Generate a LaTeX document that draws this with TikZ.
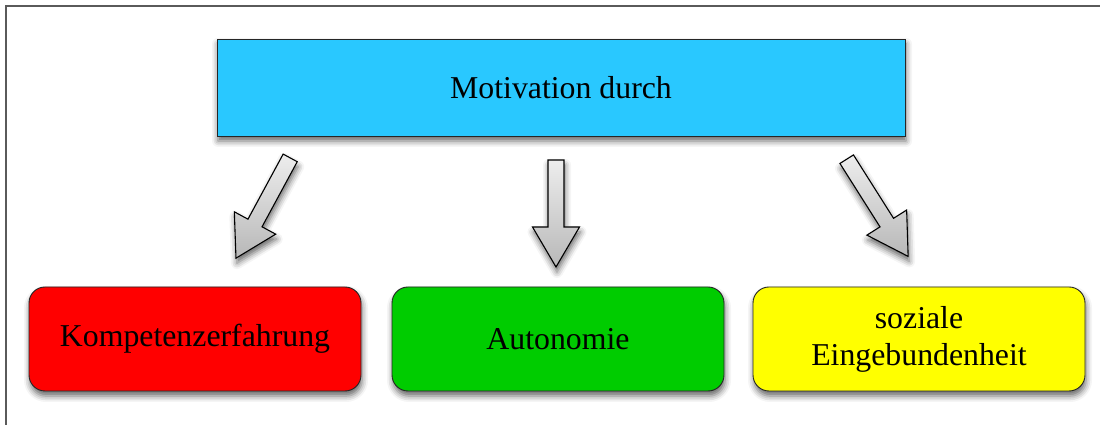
\documentclass[tikz,border=0pt]{standalone}
\usepackage{fontspec}
\setmainfont{Liberation Serif}
\usetikzlibrary{shadows.blur}

\definecolor{topblue}{HTML}{29C8FF}
\definecolor{boxred}{HTML}{FF0000}
\definecolor{boxgreen}{HTML}{00CC00}
\definecolor{boxyellow}{HTML}{FFFF00}
\definecolor{framegray}{HTML}{5A5A5A}

\tikzset{
  softshadow/.style={blur shadow={shadow xshift=1pt, shadow yshift=-5pt,
      shadow blur radius=6pt, shadow opacity=60}},
  headbox/.style={draw=black!85, line width=0.9pt, fill=topblue, softshadow,
      minimum width=688pt, minimum height=97pt, inner sep=0pt,
      font=\fontsize{31.8}{37}\selectfont},
  aspectbox/.style={draw=black!85, line width=0.9pt, rounded corners=16pt, softshadow,
      minimum width=332pt, minimum height=104pt, inner sep=0pt, align=center,
      font=\fontsize{31.8}{37}\selectfont},
  arrowbody/.style={draw=black, line width=1.1pt, line join=miter,
      left color=white!93!black, right color=white!72!black, shading angle=0,
      softshadow},
  % block arrow pointing along +x, #1 = total length
  blockarrow/.pic={
    \path[arrowbody] (0,-8) -- ({#1-40},-8) -- ({#1-40},-23.5) -- (#1,0)
      -- ({#1-40},23.5) -- ({#1-40},8) -- (0,8) -- cycle;
  }
}

\begin{document}
\begin{tikzpicture}[x=1pt,y=1pt]
  \useasboundingbox (0,0) rectangle (1100,425);

  % outer frame (left and top edges)
  \coordinate (frameBL) at (6,0);
  \coordinate (frameTL) at (6,419);
  \coordinate (frameTR) at (1100,419);
  \draw[framegray, line width=1.6pt] (frameBL) -- (frameTL) -- (frameTR);

  % heading box
  \node[headbox] (motiv) at (561,337.5) {Motivation durch};

  % three aspects
  \node[aspectbox, fill=boxred]    (komp) at (195,86) {Kompetenzerfahrung};
  \node[aspectbox, fill=boxgreen]  (auto) at (558,86) {Autonomie};
  \node[aspectbox, fill=boxyellow] (sozi) at (919,86) {soziale\\Eingebundenheit};

  % block arrows from the heading towards the aspects
  \pic[rotate=-118.4] at (290.2,267.1) {blockarrow=114};
  \pic[rotate=-90]    at (556,265)     {blockarrow=107};
  \pic[rotate=-57.7]  at (846.7,265.8) {blockarrow=115};
\end{tikzpicture}
\end{document}
